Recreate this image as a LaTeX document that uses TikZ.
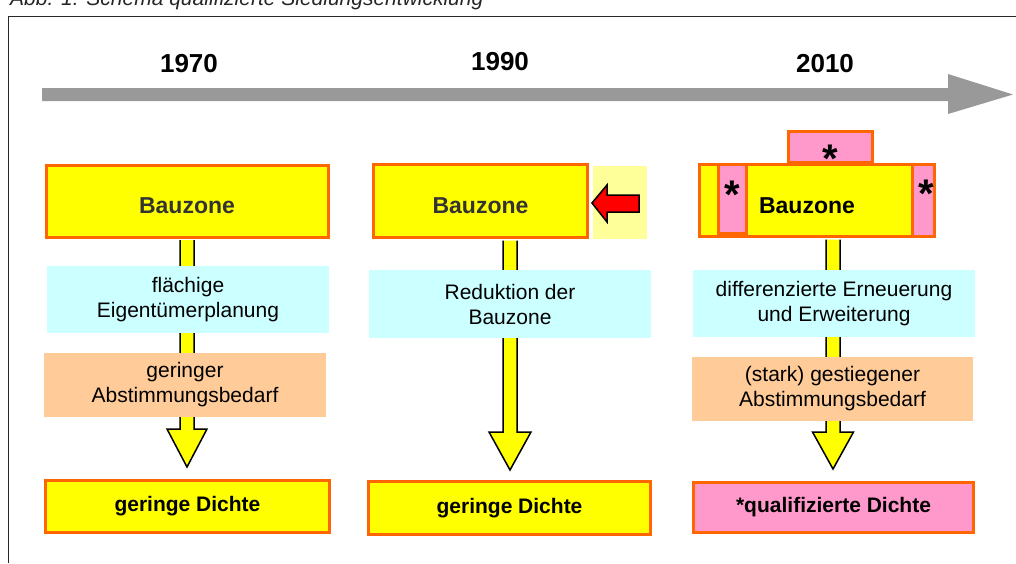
\documentclass[tikz,border=0pt]{standalone}
\usepackage{fontspec}
\setmainfont{Liberation Sans}
\usepackage{tikz}
\usetikzlibrary{
    positioning,
    calc
}
\definecolor{barGray}{RGB}{153, 153, 153}
\definecolor{frameGray}{RGB}{40, 40, 40}
\definecolor{zoneYellow}{RGB}{255, 255, 0}
\definecolor{zoneOrange}{RGB}{255, 102, 0}
\definecolor{planCyan}{RGB}{204, 255, 255}
\definecolor{votePeach}{RGB}{255, 204, 153}
\definecolor{starPink}{RGB}{255, 153, 204}
\definecolor{paleYellow}{RGB}{255, 255, 153}
\definecolor{textGray}{RGB}{51, 51, 51}

\begin{document}
\begin{tikzpicture}[x=1pt, y=-1pt,
    zonebox/.style={draw=zoneOrange, line width=3pt, fill=zoneYellow, inner sep=0pt},
    starbox/.style={draw=zoneOrange, line width=3pt, fill=starPink, inner sep=0pt},
    zonetext/.style={font=\bfseries\fontsize{23}{27}\selectfont, text height=24pt, text depth=0pt},
    infobox/.style={inner sep=0pt, align=center, font=\fontsize{21}{25}\selectfont},
    densetext/.style={font=\bfseries\fontsize{21}{25}\selectfont},
    yearlabel/.style={font=\bfseries\fontsize{26}{30}\selectfont},
    starlabel/.style={anchor=base, inner sep=0pt, font=\bfseries\fontsize{40}{44}\selectfont},
    stemarrow/.style={draw=black, line width=1.5pt, fill=zoneYellow, line join=miter}
]
    \useasboundingbox (0,0) rectangle (1016,563);

    \node[anchor=base west, inner sep=0pt, font=\itshape\fontsize{21}{25}\selectfont, text=black!85] (title) at (10,5) {Abb. 1: Schema qualifizierte Siedlungsentwicklung};
    \draw[line width=1.5pt, frameGray] (8.5,563) -- (8.5,16.5) -- (1016,16.5);

    \fill[barGray] (42,88) -- (948,88) -- (948,74) -- (1013,94.5) -- (948,114) -- (948,101) -- (42,101) -- cycle;
    \node[yearlabel] (y1970) at (189,64) {1970};
    \node[yearlabel] (y1990) at (500,62) {1990};
    \node[yearlabel] (y2010) at (825,64) {2010};

    \coordinate (t1) at (187,467);
    \coordinate (t2) at (510,470);
    \coordinate (t3) at (833,469);

    % 1970
    \node[zonebox, zonetext, text=textGray, minimum width=282pt, minimum height=72pt] (bz1) at (187,201) {Bauzone};
    \draw[stemarrow] ($(bz1.south -| t1)+(-7,1.5)$) -- ($(t1)+(-7,-38)$) -- ($(t1)+(-20,-38)$) -- (t1)
        -- ($(t1)+(20,-38)$) -- ($(t1)+(7,-38)$) -- ($(bz1.south -| t1)+(7,1.5)$);
    \node[infobox, fill=planCyan, minimum width=282pt, minimum height=67pt] (plan1) at (188,299.5) {fl\"achige\\Eigent\"umerplanung};
    \node[infobox, fill=votePeach, minimum width=282pt, minimum height=64pt] (vote1) at (185,385) {geringer\\Abstimmungsbedarf};
    \node[zonebox, densetext, minimum width=284pt, minimum height=52pt] (res1) at (187.5,506.5) {geringe Dichte};

    % 1990
    \node[zonebox, zonetext, text=textGray, minimum width=214pt, minimum height=73pt] (bz2) at (480.5,201) {Bauzone};
    \node[fill=paleYellow, inner sep=0pt, minimum width=54pt, minimum height=73pt] (cut2) at (620,202.5) {};
    \draw[line width=1.5pt, fill=red, line join=miter] (592,203) -- (607,185) -- (607,195) -- (639,195)
        -- (639,212) -- (607,212) -- (607,222) -- cycle;
    \draw[stemarrow] ($(bz2.south -| t2)+(-7,1.5)$) -- ($(t2)+(-7,-38)$) -- ($(t2)+(-21,-38)$) -- (t2)
        -- ($(t2)+(21,-38)$) -- ($(t2)+(7,-38)$) -- ($(bz2.south -| t2)+(7,1.5)$);
    \node[infobox, fill=planCyan, minimum width=282pt, minimum height=68pt] (plan2) at (510,304) {Reduktion der\\Bauzone};
    \node[zonebox, densetext, minimum width=282pt, minimum height=53pt] (res2) at (509.5,508) {geringe Dichte};

    % 2010
    \node[starbox, minimum width=84pt, minimum height=31pt] (top3) at (830.5,147) {};
    \node[zonebox, minimum width=214pt, minimum height=72pt] (bz3) at (806.5,200.5) {};
    \node[starbox, minimum width=28pt, minimum height=69pt] (left3) at (732.5,199) {};
    \node[starbox, minimum width=22pt, minimum height=72pt] (right3) at (923.5,200.5) {};
    \node[zonetext, inner sep=0pt] (bz3txt) at (807,201) {Bauzone};
    \node[starlabel] (star1) at (830,172) {*};
    \node[starlabel] (star2) at (732,208) {*};
    \node[starlabel] (star3) at (926,207) {*};
    \draw[stemarrow] ($(bz3.south -| t3)+(-7,1.5)$) -- ($(t3)+(-7,-37)$) -- ($(t3)+(-20.5,-37)$) -- (t3)
        -- ($(t3)+(20.5,-37)$) -- ($(t3)+(7,-37)$) -- ($(bz3.south -| t3)+(7,1.5)$);
    \node[infobox, fill=planCyan, minimum width=282pt, minimum height=67pt] (plan3) at (834,303.5) {differenzierte Erneuerung\\und Erweiterung};
    \node[infobox, fill=votePeach, minimum width=281pt, minimum height=64pt] (vote3) at (832.5,389) {(stark) gestiegener\\Abstimmungsbedarf};
    \node[starbox, densetext, minimum width=280pt, minimum height=50pt] (res3) at (833.5,507.5) {*qualifizierte Dichte};
\end{tikzpicture}
\end{document}
